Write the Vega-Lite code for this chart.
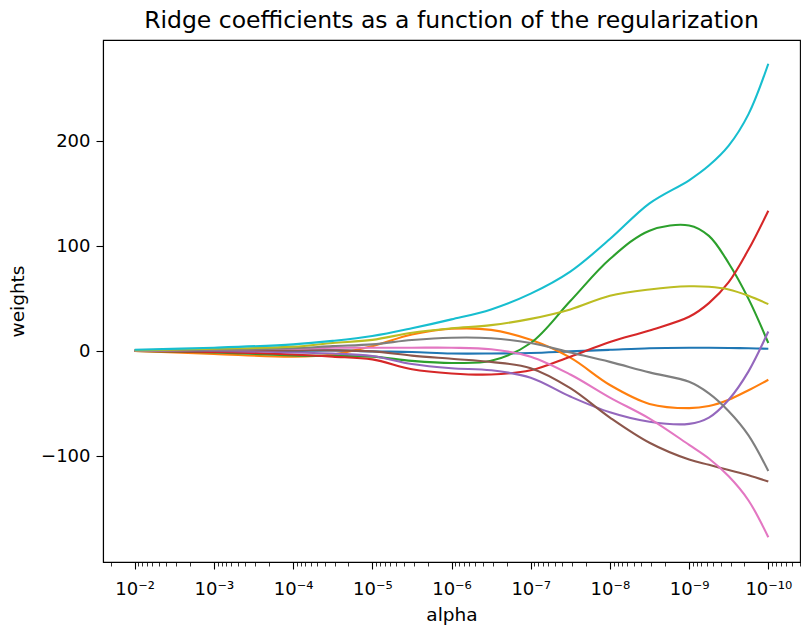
{
 "$schema": "https://vega.github.io/schema/vega-lite/v6.json",
 "width": 697, "height": 522,
 "autosize": {"type": "none"},
 "padding": {"left": 103, "top": 40, "right": 1, "bottom": 65},
 "background": "white",
 "title": {"text": "Ridge coefficients as a function of the regularization", "fontSize": 23.5, "font": "DejaVu Sans", "fontWeight": "normal", "color": "black", "anchor": "middle", "offset": 8},
 "config": {
  "view": {"stroke": "black", "strokeWidth": 1.1},
  "axis": {"domainColor": "black", "domainWidth": 1.1, "tickColor": "black", "tickWidth": 1.1, "labelColor": "black", "titleColor": "black", "labelFont": "DejaVu Sans", "titleFont": "DejaVu Sans", "labelFontSize": 18, "titleFontSize": 18.5, "titleFontWeight": "normal", "grid": false}
 },
 "data": {"values": [
  {"alpha":0.01,"w":0.5,"coef":"c0"},{"alpha":0.001,"w":0.5,"coef":"c0"},{"alpha":0.0001,"w":0.5,"coef":"c0"},{"alpha":3.1623e-5,"w":1,"coef":"c0"},{"alpha":1e-5,"w":0,"coef":"c0"},{"alpha":3.1623e-6,"w":-0.6,"coef":"c0"},{"alpha":1e-6,"w":-2,"coef":"c0"},{"alpha":3.1623e-7,"w":-2,"coef":"c0"},{"alpha":1e-7,"w":-1.5,"coef":"c0"},{"alpha":3.1623e-8,"w":0,"coef":"c0"},{"alpha":1e-8,"w":1.5,"coef":"c0"},{"alpha":3.1623e-9,"w":3,"coef":"c0"},{"alpha":1e-9,"w":3.5,"coef":"c0"},{"alpha":5.6234e-10,"w":3.5,"coef":"c0"},{"alpha":3.1623e-10,"w":3.3,"coef":"c0"},{"alpha":1.7783e-10,"w":3,"coef":"c0"},{"alpha":1e-10,"w":2.5,"coef":"c0"},
  {"alpha":0.01,"w":0.5,"coef":"c1"},{"alpha":0.001,"w":-2.5,"coef":"c1"},{"alpha":0.0001,"w":-5,"coef":"c1"},{"alpha":3.1623e-5,"w":-3,"coef":"c1"},{"alpha":1e-5,"w":5,"coef":"c1"},{"alpha":3.1623e-6,"w":16,"coef":"c1"},{"alpha":1e-6,"w":21.5,"coef":"c1"},{"alpha":3.1623e-7,"w":20.5,"coef":"c1"},{"alpha":1e-7,"w":11,"coef":"c1"},{"alpha":3.1623e-8,"w":-6,"coef":"c1"},{"alpha":1e-8,"w":-32,"coef":"c1"},{"alpha":3.1623e-9,"w":-50,"coef":"c1"},{"alpha":1e-9,"w":-54,"coef":"c1"},{"alpha":5.6234e-10,"w":-52,"coef":"c1"},{"alpha":3.1623e-10,"w":-46,"coef":"c1"},{"alpha":1.7783e-10,"w":-37,"coef":"c1"},{"alpha":1e-10,"w":-27,"coef":"c1"},
  {"alpha":0.01,"w":0.5,"coef":"c2"},{"alpha":0.001,"w":-1,"coef":"c2"},{"alpha":0.0001,"w":-3.8,"coef":"c2"},{"alpha":3.1623e-5,"w":-4.4,"coef":"c2"},{"alpha":1e-5,"w":-5,"coef":"c2"},{"alpha":3.1623e-6,"w":-9,"coef":"c2"},{"alpha":1e-6,"w":-11,"coef":"c2"},{"alpha":3.1623e-7,"w":-9,"coef":"c2"},{"alpha":1e-7,"w":8,"coef":"c2"},{"alpha":3.1623e-8,"w":48,"coef":"c2"},{"alpha":1e-8,"w":88,"coef":"c2"},{"alpha":3.1623e-9,"w":115,"coef":"c2"},{"alpha":1e-9,"w":120,"coef":"c2"},{"alpha":5.6234e-10,"w":110,"coef":"c2"},{"alpha":3.1623e-10,"w":84,"coef":"c2"},{"alpha":1.7783e-10,"w":50,"coef":"c2"},{"alpha":1e-10,"w":8,"coef":"c2"},
  {"alpha":0.01,"w":0.5,"coef":"c3"},{"alpha":0.001,"w":-0.5,"coef":"c3"},{"alpha":0.0001,"w":-3,"coef":"c3"},{"alpha":3.1623e-5,"w":-5,"coef":"c3"},{"alpha":1e-5,"w":-7.6,"coef":"c3"},{"alpha":3.1623e-6,"w":-17,"coef":"c3"},{"alpha":1e-6,"w":-21,"coef":"c3"},{"alpha":3.1623e-7,"w":-22,"coef":"c3"},{"alpha":1e-7,"w":-18,"coef":"c3"},{"alpha":3.1623e-8,"w":-5,"coef":"c3"},{"alpha":1e-8,"w":9,"coef":"c3"},{"alpha":3.1623e-9,"w":20,"coef":"c3"},{"alpha":1e-9,"w":33,"coef":"c3"},{"alpha":5.6234e-10,"w":46,"coef":"c3"},{"alpha":3.1623e-10,"w":66,"coef":"c3"},{"alpha":1.7783e-10,"w":97,"coef":"c3"},{"alpha":1e-10,"w":134,"coef":"c3"},
  {"alpha":0.01,"w":0.5,"coef":"c4"},{"alpha":0.001,"w":0.5,"coef":"c4"},{"alpha":0.0001,"w":-1,"coef":"c4"},{"alpha":3.1623e-5,"w":-2,"coef":"c4"},{"alpha":1e-5,"w":-4.4,"coef":"c4"},{"alpha":3.1623e-6,"w":-12,"coef":"c4"},{"alpha":1e-6,"w":-16,"coef":"c4"},{"alpha":3.1623e-7,"w":-18,"coef":"c4"},{"alpha":1e-7,"w":-25,"coef":"c4"},{"alpha":3.1623e-8,"w":-43,"coef":"c4"},{"alpha":1e-8,"w":-58,"coef":"c4"},{"alpha":3.1623e-9,"w":-67,"coef":"c4"},{"alpha":1e-9,"w":-69,"coef":"c4"},{"alpha":5.6234e-10,"w":-63,"coef":"c4"},{"alpha":3.1623e-10,"w":-46,"coef":"c4"},{"alpha":1.7783e-10,"w":-19,"coef":"c4"},{"alpha":1e-10,"w":19,"coef":"c4"},
  {"alpha":0.01,"w":0.5,"coef":"c5"},{"alpha":0.001,"w":1,"coef":"c5"},{"alpha":0.0001,"w":1,"coef":"c5"},{"alpha":3.1623e-5,"w":1,"coef":"c5"},{"alpha":1e-5,"w":0,"coef":"c5"},{"alpha":3.1623e-6,"w":-4,"coef":"c5"},{"alpha":1e-6,"w":-7,"coef":"c5"},{"alpha":3.1623e-7,"w":-10,"coef":"c5"},{"alpha":1e-7,"w":-16,"coef":"c5"},{"alpha":3.1623e-8,"w":-35,"coef":"c5"},{"alpha":1e-8,"w":-63,"coef":"c5"},{"alpha":3.1623e-9,"w":-87,"coef":"c5"},{"alpha":1e-9,"w":-103,"coef":"c5"},{"alpha":5.6234e-10,"w":-108,"coef":"c5"},{"alpha":3.1623e-10,"w":-113,"coef":"c5"},{"alpha":1.7783e-10,"w":-118,"coef":"c5"},{"alpha":1e-10,"w":-124,"coef":"c5"},
  {"alpha":0.01,"w":0.5,"coef":"c6"},{"alpha":0.001,"w":1.5,"coef":"c6"},{"alpha":0.0001,"w":2.5,"coef":"c6"},{"alpha":3.1623e-5,"w":3.5,"coef":"c6"},{"alpha":1e-5,"w":3.5,"coef":"c6"},{"alpha":3.1623e-6,"w":3.5,"coef":"c6"},{"alpha":1e-6,"w":3.5,"coef":"c6"},{"alpha":3.1623e-7,"w":2,"coef":"c6"},{"alpha":1e-7,"w":-5,"coef":"c6"},{"alpha":3.1623e-8,"w":-22,"coef":"c6"},{"alpha":1e-8,"w":-44,"coef":"c6"},{"alpha":3.1623e-9,"w":-64,"coef":"c6"},{"alpha":1e-9,"w":-89,"coef":"c6"},{"alpha":5.6234e-10,"w":-102,"coef":"c6"},{"alpha":3.1623e-10,"w":-119,"coef":"c6"},{"alpha":1.7783e-10,"w":-142,"coef":"c6"},{"alpha":1e-10,"w":-177,"coef":"c6"},
  {"alpha":0.01,"w":1,"coef":"c7"},{"alpha":0.001,"w":1.5,"coef":"c7"},{"alpha":0.0001,"w":3,"coef":"c7"},{"alpha":3.1623e-5,"w":5,"coef":"c7"},{"alpha":1e-5,"w":6.7,"coef":"c7"},{"alpha":3.1623e-6,"w":10.8,"coef":"c7"},{"alpha":1e-6,"w":13,"coef":"c7"},{"alpha":3.1623e-7,"w":12.5,"coef":"c7"},{"alpha":1e-7,"w":8,"coef":"c7"},{"alpha":3.1623e-8,"w":-1,"coef":"c7"},{"alpha":1e-8,"w":-10,"coef":"c7"},{"alpha":3.1623e-9,"w":-20,"coef":"c7"},{"alpha":1e-9,"w":-29,"coef":"c7"},{"alpha":5.6234e-10,"w":-40,"coef":"c7"},{"alpha":3.1623e-10,"w":-57,"coef":"c7"},{"alpha":1.7783e-10,"w":-80,"coef":"c7"},{"alpha":1e-10,"w":-114,"coef":"c7"},
  {"alpha":0.01,"w":1,"coef":"c8"},{"alpha":0.001,"w":2.5,"coef":"c8"},{"alpha":0.0001,"w":4.5,"coef":"c8"},{"alpha":3.1623e-5,"w":8,"coef":"c8"},{"alpha":1e-5,"w":11,"coef":"c8"},{"alpha":3.1623e-6,"w":17.8,"coef":"c8"},{"alpha":1e-6,"w":22,"coef":"c8"},{"alpha":3.1623e-7,"w":25,"coef":"c8"},{"alpha":1e-7,"w":31,"coef":"c8"},{"alpha":3.1623e-8,"w":40,"coef":"c8"},{"alpha":1e-8,"w":53,"coef":"c8"},{"alpha":3.1623e-9,"w":59,"coef":"c8"},{"alpha":1e-9,"w":62,"coef":"c8"},{"alpha":5.6234e-10,"w":61.5,"coef":"c8"},{"alpha":3.1623e-10,"w":59,"coef":"c8"},{"alpha":1.7783e-10,"w":53,"coef":"c8"},{"alpha":1e-10,"w":45,"coef":"c8"},
  {"alpha":0.01,"w":1.5,"coef":"c9"},{"alpha":0.001,"w":3.5,"coef":"c9"},{"alpha":0.0001,"w":6.7,"coef":"c9"},{"alpha":3.1623e-5,"w":10,"coef":"c9"},{"alpha":1e-5,"w":14.6,"coef":"c9"},{"alpha":3.1623e-6,"w":22,"coef":"c9"},{"alpha":1e-6,"w":30.5,"coef":"c9"},{"alpha":3.1623e-7,"w":40,"coef":"c9"},{"alpha":1e-7,"w":55,"coef":"c9"},{"alpha":3.1623e-8,"w":76,"coef":"c9"},{"alpha":1e-8,"w":107,"coef":"c9"},{"alpha":3.1623e-9,"w":141,"coef":"c9"},{"alpha":1e-9,"w":163,"coef":"c9"},{"alpha":5.6234e-10,"w":177,"coef":"c9"},{"alpha":3.1623e-10,"w":196,"coef":"c9"},{"alpha":1.7783e-10,"w":226,"coef":"c9"},{"alpha":1e-10,"w":274,"coef":"c9"}
 ]},
 "mark": {"type": "line", "strokeWidth": 2.1, "interpolate": "catmull-rom"},
 "encoding": {
  "x": {"field": "alpha", "type": "quantitative",
   "scale": {"type": "log", "domain": [3.981e-11, 0.02512], "reverse": true, "nice": false},
   "axis": {"title": "alpha", "titlePadding": 7,
    "values": [4e-11,5e-11,6e-11,7e-11,8e-11,9e-11,1e-10,2e-10,3e-10,4e-10,5e-10,6e-10,7e-10,8e-10,9e-10,1e-9,2e-9,3e-9,4e-9,5e-9,6e-9,7e-9,8e-9,9e-9,1e-8,2e-8,3e-8,4e-8,5e-8,6e-8,7e-8,8e-8,9e-8,1e-7,2e-7,3e-7,4e-7,5e-7,6e-7,7e-7,8e-7,9e-7,1e-6,2e-6,3e-6,4e-6,5e-6,6e-6,7e-6,8e-6,9e-6,1e-5,2e-5,3e-5,4e-5,5e-5,6e-5,7e-5,8e-5,9e-5,0.0001,0.0002,0.0003,0.0004,0.0005,0.0006,0.0007,0.0008,0.0009,0.001,0.002,0.003,0.004,0.005,0.006,0.007,0.008,0.009,0.01,0.02],
    "tickSize": {"condition": {"test": "abs(log(datum.value)/LN10 - round(log(datum.value)/LN10)) < 0.01", "value": 7}, "value": 4},
    "tickWidth": {"condition": {"test": "abs(log(datum.value)/LN10 - round(log(datum.value)/LN10)) < 0.01", "value": 1.1}, "value": 0.8},
    "labelPadding": 11,
    "labelFlush": false, "labelOverlap": false,
    "labelExpr": "abs(log(datum.value)/LN10 - round(log(datum.value)/LN10)) < 0.01 ? ('10⁻' + ['','','²','³','⁴','⁵','⁶','⁷','⁸','⁹','¹⁰'][round(-log(datum.value)/LN10)]) : ''"
   }},
  "y": {"field": "w", "type": "quantitative",
   "scale": {"domain": [-200.6, 296.6], "nice": false, "zero": false},
   "axis": {"title": "weights", "values": [-100, 0, 100, 200], "tickSize": 7, "labelPadding": 6, "titlePadding": 13}},
  "color": {"field": "coef", "type": "nominal",
   "scale": {"domain": ["c0","c1","c2","c3","c4","c5","c6","c7","c8","c9"], "range": ["#1f77b4","#ff7f0e","#2ca02c","#d62728","#9467bd","#8c564b","#e377c2","#7f7f7f","#bcbd22","#17becf"]},
   "legend": null}
 }
}
